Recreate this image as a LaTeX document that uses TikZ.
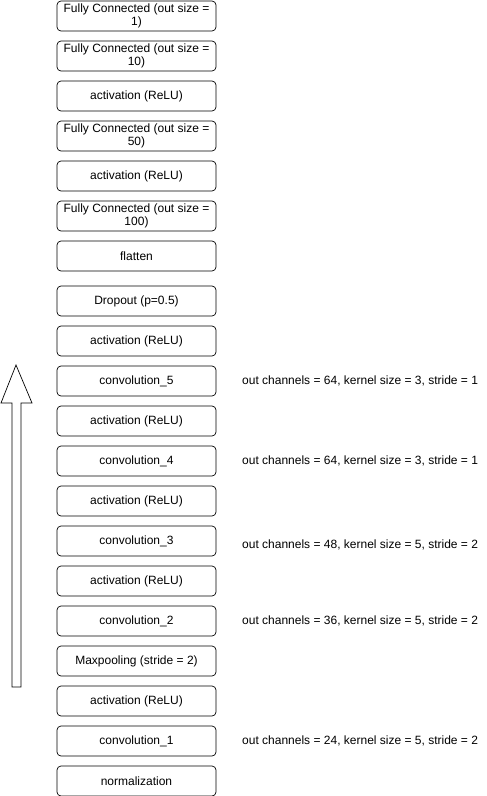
\documentclass[tikz,border=0pt]{standalone}
\usepackage{fontspec}
\setmainfont{Liberation Sans}
\usetikzlibrary{positioning}

\begin{document}
\begin{tikzpicture}[x=1pt, y=-1pt,
  layer/.style={draw, rounded corners=4pt, line width=0.7pt, minimum width=159pt,
                minimum height=30pt, inner sep=1pt, align=center,
                font=\fontsize{12}{12.5}\selectfont},
  info/.style={anchor=west, inner sep=0pt, font=\fontsize{12}{13}\selectfont}]
  \useasboundingbox (0,0) rectangle (487,796);
  % layer boxes, top to bottom
  \foreach \y/\nm/\lab in {1/fcA/{Fully Connected (out size =\\1)},
                           41/fcB/{Fully Connected (out size =\\10)},
                           81/actA/{activation (ReLU)},
                           121/fcC/{Fully Connected (out size =\\50)},
                           161/actB/{activation (ReLU)},
                           201/fcD/{Fully Connected (out size =\\100)},
                           241/flat/{flatten},
                           286/drop/{Dropout (p=0.5)},
                           326/actC/{activation (ReLU)},
                           366/convE/{convolution\_5},
                           406/actD/{activation (ReLU)},
                           446/convD/{convolution\_4},
                           486/actE/{activation (ReLU)},
                           526/convC/{convolution\_3},
                           566/actF/{activation (ReLU)},
                           606/convB/{convolution\_2},
                           646/pool/{Maxpooling (stride = 2)},
                           686/actG/{activation (ReLU)},
                           726/convA/{convolution\_1},
                           766/norm/{normalization}}
    { \node[layer] (\nm) at (136.5,\y+15) {\lab}; }
  % conv settings
  \node[info] (infoE) at (242,381) {out channels = 64, kernel size = 3, stride = 1};
  \node[info] (infoD) at (242,461) {out channels = 64, kernel size = 3, stride = 1};
  \node[info] (infoC) at (242,545) {out channels = 48, kernel size = 5, stride = 2};
  \node[info] (infoB) at (242,621) {out channels = 36, kernel size = 5, stride = 2};
  \node[info] (infoA) at (242,741) {out channels = 24, kernel size = 5, stride = 2};
  % direction of data flow
  \draw[line width=0.7pt, line join=miter] (16,365) -- (32,403) -- (21,403) -- (21,687)
    -- (12,687) -- (12,403) -- (1,403) -- cycle;
\end{tikzpicture}
\end{document}
